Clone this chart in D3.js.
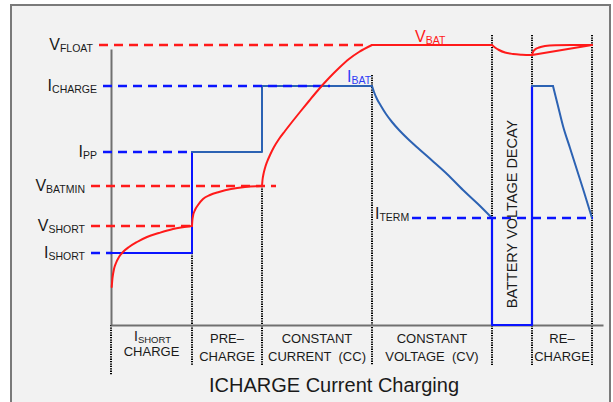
<!DOCTYPE html>
<html><head><meta charset="utf-8">
<script src="https://cdn.jsdelivr.net/npm/d3@7"></script>
<style>
html,body{margin:0;padding:0;background:#fff;}
svg{display:block;font-family:"Liberation Sans",Arial,Helvetica,sans-serif;}
</style></head><body>
<svg id="chart" width="613" height="402"></svg>
<script>
// ---- time axis: phase boundaries (arbitrary time units) ----
const phaseBounds = [0, 81, 151, 261, 381, 421, 481];
const axisEnd = 492;

// ---- reference levels (arbitrary level units) ----
const levelMain  = ["V", "I", "I", "V", "V", "I", "I"];
const levelSub   = ["FLOAT", "CHARGE", "PP", "BATMIN", "SHORT", "SHORT", "TERM"];
const levelValue = [280, 239, 173, 139, 99, 72, 107];
const levelKind  = ["V", "I", "I", "V", "V", "I", "I"];
const levelFrom  = [-12, -8, -8, -20, -20, -20, 301];
const levelTo    = [257, 219, 81, 165, 81, 1, 482];

// ---- battery voltage, one array per phase ----
const vbatShortCharge = [[0.7,38],[1.5,47],[3,56],[5,62],[8,68],[12,73],[18,78],[26,83],[36,88],[48,92],[62,96],[81,99]];
const vbatPreCharge   = [[81,99],[81.3,104],[82,109],[84,115],[87,120],[92,126],[99,130],[108,133],[120,136],[134,138],[151,139]];
const vbatCC          = [[151,139],[151.5,145],[152.5,151],[154,157],[156,163],[159,170],[163,178],[168,186],[174,194],[181,203],[189,213],[198,224],[208,236],[218,247],[228,257],[238,266],[248,273],[261,280]];
const vbatCV          = [[261,280],[381,280]];
const vbatDecay       = [[381,280],[384,277.5],[388,275],[394,272.5],[402,271],[411,270.3],[421,270]];
const vbatRecharge    = [[421,270],[422,273],[424,275.5],[428,277.5],[434,279],[444,279.8],[460,280],[481,280]];
const vbatRechargeAlt = [[421,270],[481,280]];

// ---- battery current ----
const ibatShort      = [[1,72],[81,72],[81,173]];
const ibatSteps      = [[81,173],[151,173],[151,239],[261,239]];
const ibatCV         = [[261,239],[263,233],[266,226],[270,219],[275,211],[281,203],[288,195],[297,186],[308,176],[321,164.5],[336,151],[352,135],[367,121],[381,107]];
const ibatDecay      = [[381,107],[381,0],[421,0],[421,239]];
const ibatRechargeOn = [[421,239],[442,239]];
const ibatRecharge   = [[442,239],[447,219],[452,199],[459,177],[466,155],[473,133],[481,107]];

// ---- phase captions ----
const phaseMain  = ["I", "PRE\u2013", "CONSTANT", "CONSTANT", "", "RE\u2013"];
const phaseSub   = ["SHORT", "", "", "", "", ""];
const phaseLine2 = ["CHARGE", "CHARGE", "CURRENT  (CC)", "VOLTAGE  (CV)", "", "CHARGE"];
const dottedTop  = [0, 72, 139, 250, 290, 290, 290];

const title = "ICHARGE Current Charging";
const decayText = "BATTERY VOLTAGE DECAY";

// ---- drawing ----
const RED = "#ff1a1a", BLUE = "#0a14ff", STEEL = "#2c62b3", INK = "#1a1a1a";
const svg = d3.select("#chart");
const x = d3.scaleLinear().domain([0, axisEnd]).range([111, 603]);
const y = d3.scaleLinear().domain([0, 280]).range([325, 45]);

svg.append("rect").attr("x", 11).attr("y", 5).attr("width", 599).attr("height", 420)
  .attr("fill", "#f2f2f2").attr("stroke", "#7a7a7a").attr("stroke-width", 2);

// dotted phase separators
svg.append("g").selectAll("line").data(phaseBounds).join("line")
  .attr("x1", d => x(d)).attr("x2", d => x(d))
  .attr("y1", (d, i) => y(dottedTop[i]))
  .attr("y2", (d, i) => i === 0 ? y(-50) : y(-40))
  .attr("stroke", "#000").attr("stroke-width", 2).attr("stroke-dasharray", "1.3,1.1");

// axes
const xAxis = d3.axisBottom(x).tickValues([]).tickSizeOuter(0);
svg.append("g").attr("transform", `translate(0,${y(0)})`).call(xAxis)
  .select(".domain").attr("stroke", "#707070").attr("stroke-width", 2);
const yAxisScale = y.copy().domain([0, 276]).range([y(0), y(276)]);
svg.append("g").attr("transform", `translate(${x(0)},0)`)
  .call(d3.axisLeft(yAxisScale).tickValues([]).tickSizeOuter(0))
  .select(".domain").attr("stroke", "#707070").attr("stroke-width", 2);

const lin = d3.line().x(d => x(d[0])).y(d => y(d[1]));
const smooth = d3.line().x(d => x(d[0])).y(d => y(d[1])).curve(d3.curveMonotoneX);

function path(data, gen, color, w) {
  svg.append("path").datum(data).attr("d", gen)
    .attr("fill", "none").attr("stroke", color).attr("stroke-width", w)
    .attr("stroke-linejoin", "round").attr("stroke-linecap", "round");
}

// current
path(ibatShort, lin, BLUE, 2);
path(ibatSteps, lin, STEEL, 2);
path(ibatCV, smooth, STEEL, 2);
path(ibatDecay, lin, BLUE, 2.2);
path(ibatRechargeOn, lin, STEEL, 2);
path(ibatRecharge, smooth, STEEL, 2);

// dashed reference levels
svg.append("g").selectAll("line").data(levelValue).join("line")
  .attr("x1", (d, i) => x(levelFrom[i])).attr("x2", (d, i) => x(levelTo[i]))
  .attr("y1", d => y(d)).attr("y2", d => y(d))
  .attr("stroke", (d, i) => levelKind[i] === "V" ? RED : BLUE)
  .attr("stroke-width", 2.5).attr("stroke-dasharray", "9,6");

// voltage
[vbatShortCharge, vbatPreCharge, vbatCC, vbatDecay, vbatRecharge].forEach(s => path(s, smooth, RED, 2));
path(vbatCV, lin, RED, 2);
path(vbatRechargeAlt, lin, RED, 1.8);

// label with subscript
function subLabel(g, px, py, anchor, main, sub, mainSize, subSize, color) {
  const t = g.append("text").attr("x", px).attr("y", py).attr("text-anchor", anchor).attr("fill", color);
  t.append("tspan").attr("font-size", mainSize).text(main);
  t.append("tspan").attr("font-size", subSize).attr("dy", 2).text(sub);
  return t;
}

const labels = svg.append("g");
levelValue.forEach((v, i) => {
  if (levelSub[i] === "TERM") {
    subLabel(labels, x(levelFrom[i]) - 37, y(v) + 0.5, "start", levelMain[i], levelSub[i], 16, 10.5, INK);
  } else {
    subLabel(labels, x(levelFrom[i]) - 6, y(v) + 5, "end", levelMain[i], levelSub[i], 16, 10.5, INK);
  }
});

// series labels
subLabel(labels, x(304), y(283), "start", "V", "BAT", 16, 10.5, RED);
subLabel(labels, x(236), y(243), "start", "I", "BAT", 16, 10.5, "#2f3cf5");

// phase captions
phaseBounds.slice(0, -1).forEach((b, i) => {
  const cx = x((b + phaseBounds[i + 1]) / 2);
  if (phaseMain[i]) {
    if (phaseSub[i]) {
      subLabel(labels, cx + 1, 341, "middle", phaseMain[i], phaseSub[i], 14, 9.5, INK);
    } else {
      labels.append("text").attr("x", cx).attr("y", 343).attr("text-anchor", "middle")
        .attr("font-size", 13).attr("fill", INK).style("white-space", "pre").text(phaseMain[i]);
    }
  }
  if (phaseLine2[i]) {
    labels.append("text").attr("x", cx).attr("y", i === 0 ? 356 : 361).attr("text-anchor", "middle")
      .attr("font-size", 13).attr("fill", INK).style("white-space", "pre").text(phaseLine2[i]);
  }
});

// rotated caption in the decay phase
const decayX = x((phaseBounds[4] + phaseBounds[5]) / 2) + 5;
labels.append("text").attr("transform", `translate(${decayX},214) rotate(-90)`)
  .attr("text-anchor", "middle").attr("font-size", 14.5).attr("fill", INK).text(decayText);

// title
svg.append("text").attr("x", 334).attr("y", 392).attr("text-anchor", "middle")
  .attr("font-size", 20).attr("fill", INK).text(title);
</script>
</body></html>
